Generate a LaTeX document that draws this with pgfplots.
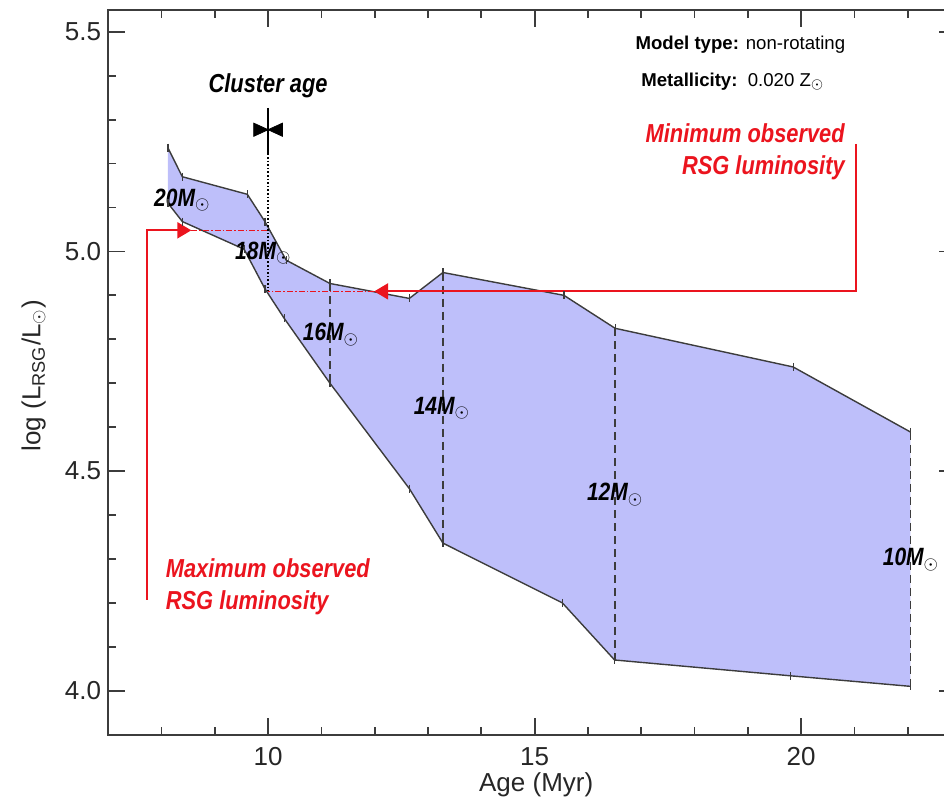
\documentclass[border=0pt]{standalone}
\usepackage{fontspec}
\setmainfont{Liberation Sans}
\setsansfont{Liberation Sans}
\newfontfamily\condsf{Liberation Sans}[FakeStretch=0.84]
\usepackage{pgfplots}
\pgfplotsset{compat=1.18}
\usetikzlibrary{arrows.meta}

\definecolor{band}{RGB}{190,191,250}
\definecolor{obsred}{RGB}{235,20,30}
\definecolor{frame}{RGB}{60,60,60}

\begin{document}
\begin{tikzpicture}
\begin{axis}[
  scale only axis,
  x=26.65pt, y=219.65pt,
  xmin=7, xmax=22.9, ymin=3.9, ymax=5.55,
  axis line style={frame, line width=1pt},
  xtick={10,15,20}, minor xtick={8,9,11,12,13,14,16,17,18,19,21,22},
  ytick={4.0,4.5,5.0,5.5}, minor y tick num=4,
  tick style={frame, line width=0.9pt},
  major tick length=8.5pt, minor tick length=4pt,
  tick align=inside,
  ticklabel pos=left,
  yticklabel style={/pgf/number format/.cd, fixed, fixed zerofill, precision=1},
  xticklabel style={yshift=-3pt},
  /pgf/number format/assume math mode=true,
  tick label style={font=\fontsize{13}{15}\selectfont, text=black!85},
  label style={font=\fontsize{13}{15}\selectfont, text=black!85},
  xlabel={Age (Myr)},
  ylabel={log (L\textsubscript{RSG}/L\textsubscript{$\odot$})},
  xlabel style={at={(axis description cs:0.505,-0.069)}, anchor=center},
  ylabel style={at={(axis description cs:-0.088,0.495)}, anchor=center},
  clip=false,
]
% RSG region spanned by the isochrones
\addplot[fill=band, draw=none] coordinates {
  (8.12,5.236) (8.39,5.170) (9.61,5.130) (9.94,5.068) (10.34,4.980)
  (11.16,4.927) (12.65,4.893) (13.28,4.952) (15.55,4.900) (16.51,4.825)
  (19.85,4.737) (22.05,4.589)
  (22.05,4.010) (19.80,4.034) (16.50,4.070) (15.52,4.200) (13.28,4.336)
  (12.65,4.460) (11.16,4.700) (10.30,4.848) (9.94,4.915) (9.55,5.005)
  (8.39,5.068) (8.12,5.110)
} -- cycle;

% upper and lower envelopes
\addplot[frame, line width=0.7pt, mark=|, mark size=2pt, mark options={solid, line width=0.6pt}] coordinates {
  (8.12,5.236) (8.39,5.170) (9.61,5.130) (9.94,5.068) (10.34,4.980)
  (11.16,4.927) (12.65,4.893) (13.28,4.952) (15.55,4.900) (16.51,4.825)
  (19.85,4.737) (22.05,4.589)
};
\addplot[frame, line width=0.7pt, mark=|, mark size=2pt, mark options={solid, line width=0.6pt}] coordinates {
  (8.12,5.110) (8.39,5.068) (9.55,5.005) (9.94,4.915) (10.30,4.848)
  (11.16,4.700) (12.65,4.460) (13.28,4.336) (15.52,4.200) (16.50,4.070)
  (19.80,4.034) (22.05,4.010)
};

% mass tracks
\addplot[frame, line width=0.7pt, dash pattern=on 4pt off 2.5pt] coordinates {(11.16,4.927) (11.16,4.700)};
\addplot[frame, line width=0.7pt, dash pattern=on 4pt off 2.5pt] coordinates {(13.28,4.952) (13.28,4.336)};
\addplot[frame, line width=0.7pt, dash pattern=on 4pt off 2.5pt] coordinates {(16.51,4.825) (16.51,4.070)};
\addplot[frame, line width=0.7pt, dash pattern=on 4pt off 2.5pt] coordinates {(22.05,4.589) (22.05,4.010)};

% cluster age
\addplot[black, line width=0.8pt] coordinates {(10,5.327) (10,5.223)};
\addplot[black, line width=0.8pt, densely dotted] coordinates {(10,5.223) (10,4.911)};
\addplot[fill=black, draw=black, line width=0.4pt] coordinates {(9.73,5.292) (10,5.277) (9.73,5.262)} -- cycle;
\addplot[fill=black, draw=black, line width=0.4pt] coordinates {(10.27,5.292) (10,5.277) (10.27,5.262)} -- cycle;

% observed luminosity limits
\addplot[obsred, line width=1pt, -{Triangle[length=7pt, width=8pt]}] coordinates {(21.03,5.245) (21.03,4.909) (11.99,4.909)};
\addplot[obsred, line width=0.8pt, densely dashdotted] coordinates {(11.99,4.909) (10.0,4.909)};
\addplot[obsred, line width=1pt, -{Triangle[length=7pt, width=8pt]}] coordinates {(7.73,4.207) (7.73,5.048) (8.56,5.048)};
\addplot[obsred, line width=0.8pt, densely dashdotted] coordinates {(8.56,5.048) (10.0,5.048)};

% annotations
\node[font=\condsf\bfseries\itshape\fontsize{13}{15}\selectfont] at (axis cs:10,5.378) {Cluster age};
\node[font=\fontsize{9.3}{11}\selectfont] at (axis cs:18.86,5.470) {\textbf{Model type:} non-rotating};
\node[font=\fontsize{9.3}{11}\selectfont] at (axis cs:18.72,5.386) {\textbf{Metallicity:}\ \ 0.020 Z$_\odot$};

\node[anchor=east, text=obsred, font=\condsf\bfseries\itshape\fontsize{13}{15}\selectfont] at (axis cs:20.95,5.269) {Minimum observed};
\node[anchor=east, text=obsred, font=\condsf\bfseries\itshape\fontsize{13}{15}\selectfont] at (axis cs:20.95,5.190) {RSG luminosity};
\node[anchor=west, text=obsred, font=\condsf\bfseries\itshape\fontsize{13}{15}\selectfont] at (axis cs:7.95,4.279) {Maximum observed};
\node[anchor=west, text=obsred, font=\condsf\bfseries\itshape\fontsize{13}{15}\selectfont] at (axis cs:7.95,4.200) {RSG luminosity};

\node[font=\condsf\bfseries\itshape\fontsize{12.5}{14}\selectfont] at (axis cs:8.39,5.117) {20M$_\odot$};
\node[font=\condsf\bfseries\itshape\fontsize{12.5}{14}\selectfont] at (axis cs:9.91,4.996) {18M$_\odot$};
\node[font=\condsf\bfseries\itshape\fontsize{12.5}{14}\selectfont] at (axis cs:11.18,4.810) {16M$_\odot$};
\node[font=\condsf\bfseries\itshape\fontsize{12.5}{14}\selectfont] at (axis cs:13.26,4.643) {14M$_\odot$};
\node[font=\condsf\bfseries\itshape\fontsize{12.5}{14}\selectfont] at (axis cs:16.51,4.446) {12M$_\odot$};
\node[font=\condsf\bfseries\itshape\fontsize{12.5}{14}\selectfont] at (axis cs:22.06,4.298) {10M$_\odot$};

\coordinate (bbsw) at (axis cs:4.97,3.742);
\coordinate (bbne) at (axis cs:22.68,5.5723);
\end{axis}
\pgfresetboundingbox
\path[use as bounding box] (bbsw) rectangle (bbne);
\end{tikzpicture}
\end{document}
